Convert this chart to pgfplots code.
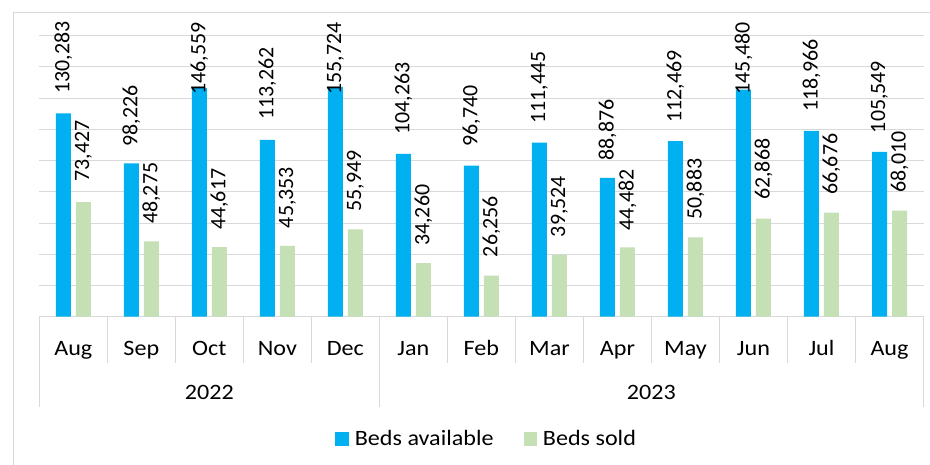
\documentclass[border=0pt]{standalone}
\usepackage{fontspec}
\setmainfont{Carlito}
\newfontfamily\labfont[FakeStretch=1.1]{Carlito}
\usepackage{pgfplots}
\usepackage{pgfplotstable}
\pgfplotsset{compat=1.18}
\definecolor{bblue}{HTML}{00B0F0}
\definecolor{bgreen}{HTML}{C5E0B4}
\definecolor{lgray}{HTML}{D9D9D9}

\pgfplotstableread{
x avail sold aly sly alab slab
0 130283 73427 142660 86480 130,283 73,427
1 98226 48275 108900 59380 98,226 48,275
2 146559 44617 142020 55540 146,559 44,617
3 113262 45353 126000 56630 113,262 45,353
4 147200 55949 142020 67260 155,724 55,949
5 104263 34260 116390 45290 104,263 34,260
6 96740 26256 108900 38050 96,740 26,256
7 111445 39524 123440 50860 111,445 39,524
8 88876 44482 100060 55090 88,876 44,482
9 112469 50883 124270 61940 112,469 50,883
10 145480 62868 142340 74760 145,480 62,868
11 118966 66676 131320 77960 118,966 66,676
12 105549 68010 117480 79430 105,549 68,010
}\beds

\begin{document}
\begin{tikzpicture}
\useasboundingbox (0,0) rectangle (930bp,465bp);
\fill[white] (0,0) rectangle (930bp,465bp);
\draw[lgray, line width=1bp] (13bp,-2bp) -- (13bp,452.5bp) -- (932bp,452.5bp);
\begin{axis}[
  at={(39.3bp,148.3bp)}, anchor=south west,
  scale only axis, width=884.2bp, height=281bp,
  xmin=-0.5, xmax=12.5, ymin=0, ymax=180000,
  axis line style={draw=none},
  xtick={0,...,12},
  xticklabels={Aug,Sep,Oct,Nov,Dec,Jan,Feb,Mar,Apr,May,Jun,Jul,Aug},
  major tick length=0pt,
  xticklabel style={anchor=base, yshift=-39.3bp, inner sep=0pt,
    font=\labfont\fontsize{22}{26}\selectfont, text=black},
  ytick distance=20000, yticklabels={}, scaled y ticks=false,
  ymajorgrids, grid style={lgray, line width=0.9bp},
  clip=false,
  legend columns=2,
  legend style={at={(0.506,-0.435)}, anchor=center, draw=none, fill=none,
    font=\labfont\fontsize{22}{26}\selectfont, column sep=4bp,
    /tikz/every even column/.append style={column sep=28bp}},
]
\addplot[ybar, bar width=15bp, bar shift=-10bp, fill=bblue, draw=none,
  legend image code/.code={\fill[bblue] (0bp,-6.7bp) rectangle (13.4bp,6.7bp);}]
  table[x=x, y=avail]{\beds};
\addlegendentry{Beds available}
\addplot[ybar, bar width=15bp, bar shift=10bp, fill=bgreen, draw=none,
  legend image code/.code={\fill[bgreen] (0bp,-6.7bp) rectangle (13.4bp,6.7bp);}]
  table[x=x, y=sold]{\beds};
\addlegendentry{Beds sold}
\addplot[forget plot, only marks, mark=none, point meta=explicit symbolic,
  nodes near coords,
  nodes near coords style={rotate=90, anchor=west, inner sep=0pt,
    font=\fontsize{22}{26}\selectfont, text=black}]
  table[x expr=\thisrow{x}-0.147, y=aly, meta=alab]{\beds};
\addplot[forget plot, only marks, mark=none, point meta=explicit symbolic,
  nodes near coords,
  nodes near coords style={rotate=90, anchor=west, inner sep=0pt,
    font=\fontsize{22}{26}\selectfont, text=black}]
  table[x expr=\thisrow{x}+0.147, y=sly, meta=slab]{\beds};
\end{axis}
\foreach \k in {0,...,13}
  \draw[lgray, line width=0.9bp] ({39.3bp+\k*68.0154bp},148.3bp) -- ++(0,-46bp);
\foreach \k in {0,5,13}
  \draw[lgray, line width=0.9bp] ({39.3bp+\k*68.0154bp},148.3bp) -- ++(0,-90.3bp);
\node[anchor=base, inner sep=0pt, font=\labfont\fontsize{22}{26}\selectfont] at (209.3bp,65bp) {2022};
\node[anchor=base, inner sep=0pt, font=\labfont\fontsize{22}{26}\selectfont] at (651.3bp,65bp) {2023};
\end{tikzpicture}
\end{document}
